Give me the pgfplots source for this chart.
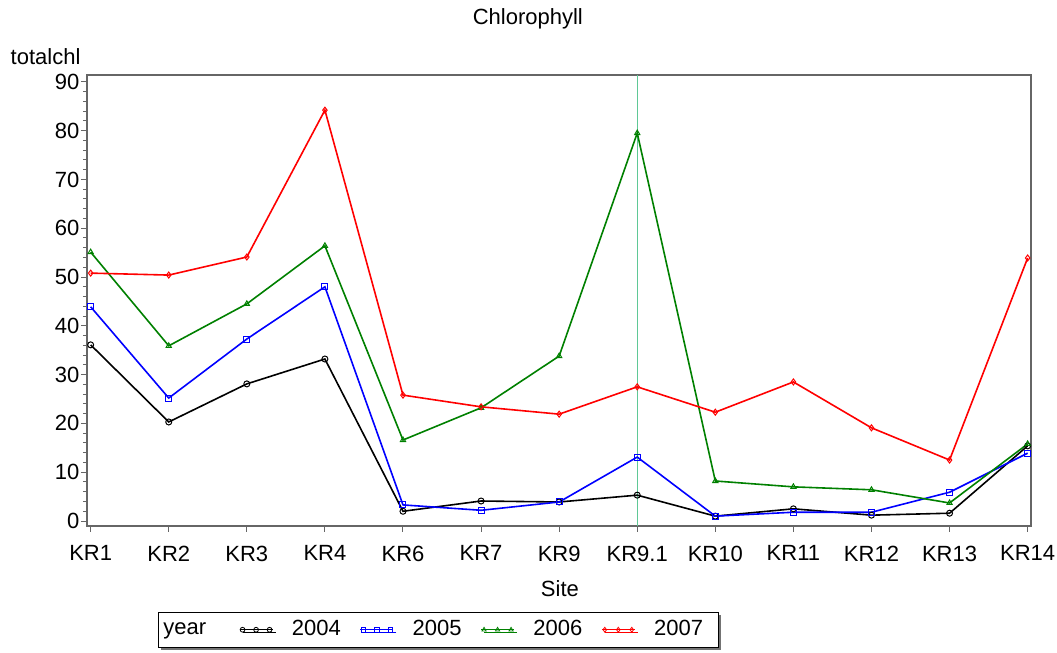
\documentclass[border=0pt]{standalone}
\usepackage{fontspec}
\setmainfont{Liberation Sans}
\usepackage{pgfplots}
\pgfplotsset{compat=1.18}
\usetikzlibrary{shadows}
\definecolor{reflinecol}{RGB}{95,200,150}
\definecolor{sasgreen}{RGB}{0,128,0}
\definecolor{sasblue}{RGB}{0,0,255}
\definecolor{sasred}{RGB}{255,0,0}

\pgfplotstableread{
x y2004 y2005 y2006 y2007
0  36.1 43.9 55.1 50.8
1  20.3 25.2 35.9 50.4
2  28.1 37.3 44.5 54.1
3  33.2 48.0 56.4 84.2
4  2.0  3.3  16.6 25.8
5  4.1  2.2  23.2 23.4
6  3.9  3.9  33.8 21.9
7  5.3  13.1 79.5 27.5
8  1.0  1.0  8.2  22.3
9  2.5  1.8  7.0  28.5
10 1.2  1.8  6.4  19.1
11 1.6  5.9  3.7  12.5
12 15.4 13.9 15.8 53.9
}\chl

\begin{document}
\fontsize{11}{13}\selectfont
\begin{tikzpicture}
\path[use as bounding box] (-43.5pt,-63.5pt) rectangle (485pt,263pt);
\begin{axis}[
  at={(0,0)}, anchor=south west,
  scale only axis, width=472pt, height=225.5pt,
  xmin=-0.047, xmax=12.043, ymin=-1.02, ymax=91.4,
  xtick={0,...,12},
  xticklabels={KR1,KR2,KR3,KR4,KR6,KR7,KR9,KR9.1,KR10,KR11,KR12,KR13,KR14},
  ytick={0,10,...,90},
  minor y tick num=4,
  tick align=outside, major tick length=3pt, minor tick length=2pt,
  tick pos=left,
  tick style={black!60, line width=0.5pt},
  axis line style={black!60, line width=0.6pt},
  ticklabel style={font=\fontsize{11}{13}\selectfont},
  xticklabel style={yshift=-3pt},
  yticklabel style={xshift=3pt},
  /pgf/number format/assume math mode=true,
  every axis title shift=0pt,
  title={Chlorophyll},
  title style={at={(axis description cs:0.467,1.1109)}, anchor=base, font=\fontsize{11}{13}\selectfont},
  xlabel={Site},
  ylabel={totalchl},
  every axis x label/.style={at={(axis description cs:0.501,-0.1574)}, anchor=base, font=\fontsize{11}{13}\selectfont},
  every axis y label/.style={at={(axis description cs:-0.089,1.0244)}, anchor=base west, font=\fontsize{11}{13}\selectfont},
  legend columns=-1,
  legend cell align=left,
  legend style={at={(axis description cs:0.0752,-0.1907)}, anchor=north west, draw=black, fill=white,
    font=\fontsize{11}{13}\selectfont,
    drop shadow={shadow xshift=1.5pt, shadow yshift=-1.5pt, fill=black!55, opacity=1},
    nodes={inner sep=0pt},
    inner xsep=2.5pt, inner ysep=4pt},
  legend image post style={line width=0.4pt, mark size=1.2pt},
  legend image code/.code={%
    \draw[mark=none] (0pt,0pt) -- (16.5pt,0pt);
    \draw[draw=none, mark repeat=1, mark options={solid, line width=0.4pt, fill=none}] plot coordinates {(1.5pt,0pt) (8.25pt,0pt) (15pt,0pt)};},
  every axis plot/.append style={line width=0.8pt, mark size=1.5pt, mark options={solid, line width=0.5pt, fill=none}},
]
\draw[draw=reflinecol, line width=0.6pt] (axis cs:7,-1.02) -- (axis cs:7,91.4);
\addlegendimage{empty legend}
\addlegendentry{year\kern16.5pt}
\addplot[black, mark=o] table[x=x, y=y2004] {\chl};
\addlegendentry{\kern9.5pt 2004\kern9.5pt}
\addplot[sasblue, mark=square] table[x=x, y=y2005] {\chl};
\addlegendentry{\kern9.5pt 2005\kern9.5pt}
\addplot[sasgreen, mark=triangle] table[x=x, y=y2006] {\chl};
\addlegendentry{\kern9.5pt 2006\kern9.5pt}
\addplot[sasred, mark=diamond] table[x=x, y=y2007] {\chl};
\addlegendentry{\kern9.5pt 2007\kern5pt}
\end{axis}
\end{tikzpicture}
\end{document}
